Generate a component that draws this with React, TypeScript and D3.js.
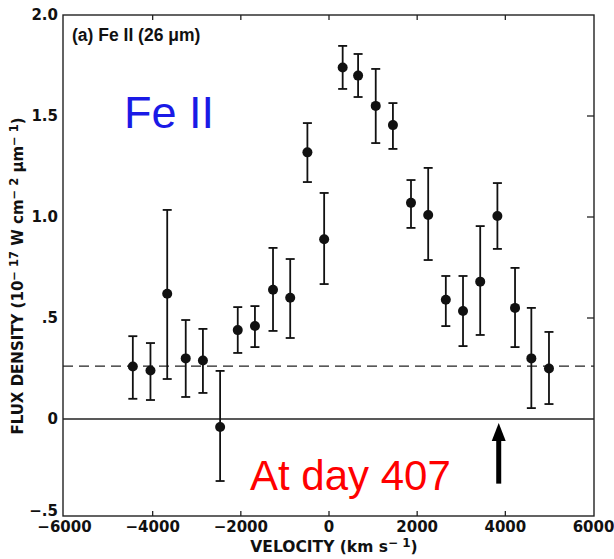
import React from "react";
import * as d3 from "d3";

const velocities = [-4450, -4050, -3670, -3250, -2860, -2470, -2070, -1680, -1270, -880, -490, -110, 310, 660, 1060, 1450, 1860, 2250, 2650, 3040, 3430, 3820, 4220, 4590, 4990];
const flux = [0.26, 0.24, 0.62, 0.30, 0.29, -0.04, 0.44, 0.46, 0.64, 0.60, 1.32, 0.89, 1.74, 1.70, 1.55, 1.455, 1.07, 1.01, 0.59, 0.535, 0.68, 1.005, 0.55, 0.30, 0.25];
const upper = [0.41, 0.376, 1.035, 0.49, 0.446, 0.238, 0.554, 0.559, 0.847, 0.792, 1.465, 1.119, 1.847, 1.807, 1.733, 1.564, 1.183, 1.243, 0.708, 0.708, 0.955, 1.168, 0.748, 0.55, 0.431];
const lower = [0.10, 0.094, 0.198, 0.109, 0.129, -0.307, 0.327, 0.356, 0.436, 0.401, 1.173, 0.668, 1.634, 1.594, 1.366, 1.337, 0.946, 0.787, 0.46, 0.361, 0.416, 0.842, 0.356, 0.054, 0.074];

const xTicks = [-6000, -4000, -2000, 0, 2000, 4000, 6000];
const xTickLabels = ["\u22126000", "\u22124000", "\u22122000", "0", "2000", "4000", "6000"];
const yTicks = [2.0, 1.5, 1.0, 0.5, 0, -0.5];
const yTickLabels = ["2.0", "1.5", "1.0", ".5", "0", "\u2212.5"];
const continuumLevel = [0.262];
const arrowVelocity = [3850];
const arrowRange = [-0.32, -0.02];

const W = 614;
const H = 559;
const plotLeft = 63;
const plotRight = 594;
const plotTop = 15;
const plotBottom = 516;

export default function App() {
  const x = d3.scaleLinear().domain([-6000, 6000]).range([64.5, 593.5]);
  const y = d3.scaleLinear().domain([-0.5, 2.0]).range([520, 15]);
  const tickFont = "'DejaVu Sans', sans-serif";
  const capW = 4.5;
  const ax = x(arrowVelocity[0]);
  const aTip = y(arrowRange[1]);
  const aTail = y(arrowRange[0]);

  return (
    <svg width={W} height={H} style={{ position: "absolute", left: 0, top: 0, background: "#fff" }}>
      {/* frame */}
      <rect x={plotLeft} y={plotTop} width={plotRight - plotLeft} height={plotBottom - plotTop} fill="none" stroke="#222" strokeWidth={1.4} />
      {/* top & bottom ticks */}
      {xTicks.slice(1, -1).map((t) => (
        <g key={"xt" + t}>
          <line x1={x(t)} x2={x(t)} y1={plotBottom} y2={plotBottom - 5} stroke="#222" strokeWidth={1.3} />
          <line x1={x(t)} x2={x(t)} y1={plotTop} y2={plotTop + 5} stroke="#222" strokeWidth={1.3} />
        </g>
      ))}
      {/* right ticks */}
      {[1.5, 1.0, 0.5].map((t) => (
        <line key={"yt" + t} x1={plotRight} x2={plotRight - 7} y1={y(t)} y2={y(t)} stroke="#222" strokeWidth={1.3} />
      ))}
      {/* zero line */}
      <line x1={plotLeft} x2={plotRight} y1={y(0)} y2={y(0)} stroke="#222" strokeWidth={1.3} />
      {/* continuum dashed */}
      <line x1={plotLeft} x2={plotRight} y1={y(continuumLevel[0])} y2={y(continuumLevel[0])} stroke="#222" strokeWidth={1.3} strokeDasharray="10,6" />
      {/* x tick labels */}
      {xTicks.map((t, i) => (
        <text key={"xl" + t} x={x(t)} y={527} textAnchor="middle" dominantBaseline="central" fontFamily={tickFont} fontWeight="bold" fontSize={15} fill="#111">
          {xTickLabels[i]}
        </text>
      ))}
      {/* y tick labels */}
      {yTicks.map((t, i) => (
        <text key={"yl" + t} x={58} y={t === -0.5 ? y(t) - 9 : y(t)} textAnchor="end" dominantBaseline="central" fontFamily={tickFont} fontWeight="bold" fontSize={15} fill="#111">
          {yTickLabels[i]}
        </text>
      ))}
      {/* axis titles */}
      <text x={334} y={552} textAnchor="middle" fontFamily={tickFont} fontWeight="bold" fontSize={15.5} fill="#111">
        VELOCITY (km s<tspan dy={-5} fontSize={12}>{"\u2212 1"}</tspan><tspan dy={5}>)</tspan>
      </text>
      <text transform="translate(23,276) rotate(-90)" textAnchor="middle" fontFamily={tickFont} fontWeight="bold" fontSize={15} fill="#111">
        FLUX DENSITY (10<tspan dy={-5} fontSize={11.5}>{"\u2212 17"}</tspan><tspan dy={5}>{" W cm"}</tspan><tspan dy={-5} fontSize={11.5}>{"\u2212 2"}</tspan><tspan dy={5}>{" \u03bcm"}</tspan><tspan dy={-5} fontSize={11.5}>{"\u2212 1"}</tspan><tspan dy={5}>)</tspan>
      </text>
      {/* panel label */}
      <text x={72} y={41} fontFamily="'Liberation Sans', Arial, sans-serif" fontWeight="bold" fontSize={17.5} fill="#111">
        (a) Fe II (26 {"\u03bc"}m)
      </text>
      {/* annotations */}
      <text x={124} y={128} fontFamily="'Liberation Sans', Arial, sans-serif" fontSize={45} fill="#1a1ae6">
        Fe II
      </text>
      <text x={250} y={490} fontFamily="'Liberation Sans', Arial, sans-serif" fontSize={42} fill="#ff0000">
        At day 407
      </text>
      {/* arrow */}
      <line x1={ax} x2={ax} y1={aTail} y2={aTip + 16} stroke="#000" strokeWidth={5} />
      <path d={`M${ax - 7},${aTip + 18} L${ax},${aTip} L${ax + 7},${aTip + 18} Z`} fill="#000" />
      {/* error bars and points */}
      {velocities.map((v, i) => {
        const cx = x(v);
        return (
          <g key={"p" + i}>
            <line x1={cx} x2={cx} y1={y(upper[i])} y2={y(lower[i])} stroke="#111" strokeWidth={1.8} />
            <line x1={cx - capW} x2={cx + capW} y1={y(upper[i])} y2={y(upper[i])} stroke="#111" strokeWidth={1.8} />
            <line x1={cx - capW} x2={cx + capW} y1={y(lower[i])} y2={y(lower[i])} stroke="#111" strokeWidth={1.8} />
            <circle cx={cx} cy={y(flux[i])} r={5} fill="#111" />
          </g>
        );
      })}
    </svg>
  );
}
